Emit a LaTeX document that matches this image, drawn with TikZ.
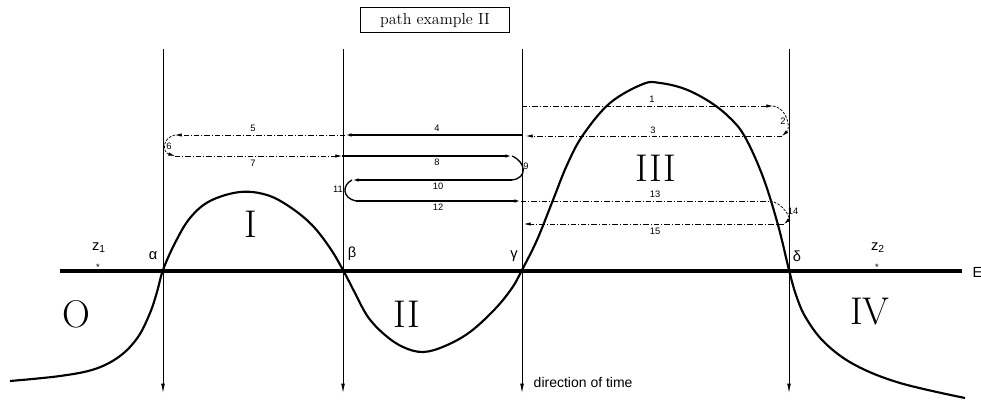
\documentclass[tikz,border=0pt]{standalone}
\usepackage{fontspec}
\setsansfont{Liberation Sans}
\usepackage{tikz}
\usetikzlibrary{arrows.meta, positioning}

\begin{document}
\begin{tikzpicture}[x=0.75pt, y=-0.75pt, every node/.style={font=\sffamily}]
    % Styles
    \tikzstyle{timeline} = [line width=0.6pt, -{Latex[length=7pt,width=2.8pt]}]
    \tikzstyle{region} = [font=\rmfamily\fontsize{29}{29}\selectfont, inner sep=0pt]
    \tikzstyle{point} = [font=\sffamily\fontsize{11}{11}\selectfont, inner sep=0pt]
    \tikzstyle{steplbl} = [font=\sffamily\fontsize{7}{7}\selectfont, inner sep=0pt]
    \tikzstyle{solidpath} = [line width=1pt, -{Latex[length=5pt,width=2.6pt]}]
    \tikzstyle{dashpath} = [line width=0.55pt, dash pattern=on 4pt off 1.5pt on 0.8pt off 1.5pt, -{Latex[length=5pt,width=2.6pt]}]
    \tikzstyle{turnpath} = [line width=0.55pt, dash pattern=on 2pt off 1pt, -{Latex[length=5pt,width=2.6pt]}]

    \useasboundingbox (0,0) rectangle (981,400);

    % Title
    \node[draw, thin, font=\rmfamily\fontsize{12}{12}\selectfont, minimum width=112pt, minimum height=19pt, inner sep=1pt] (title) at (435,20) {path example II};

    % Time lines
    \foreach \name/\x in {a/163, b/343, g/522, d/789} {
        \coordinate (top\name) at (\x,49);
        \coordinate (bot\name) at (\x,393);
        \draw[timeline] (top\name) -- (bot\name);
    }
    \node[anchor=west, font=\sffamily\fontsize{10.5}{11}\selectfont] (time) at (529,382) {direction of time};

    % Energy axis
    \coordinate (axl) at (60,271);
    \coordinate (axr) at (962,271);
    \draw[line width=2.6pt] (axl) -- (axr);
    \node[anchor=west, font=\sffamily\fontsize{11}{11}\selectfont] (E) at (968,272) {E};

    % Potential curve
    \draw[line width=1.6pt] plot[smooth, tension=0.6] coordinates {
        (10,381) (60,376) (95,369) (120,356) (138,337) (150,313) (157,292) (163,270)
        (175,243) (190,218) (210,201) (240,192) (267,195) (290,207) (312,225) (330,248)
        (343,270) (355,293) (368,317) (385,335) (403,347) (423,352) (445,346) (470,332)
        (495,309) (512,288) (522,270) (537,240) (553,200) (567,165) (583,135) (610,103)
        (643,84) (660,83) (685,89) (710,102) (730,118) (745,137) (763,177) (778,225)
        (789,270) (796,295) (806,318) (825,343) (855,365) (900,383) (965,398)};

    % Region labels
    \node[region] (rO) at (76,314) {O};
    \node[region] (rI) at (251,224) {I};
    \node[region] (rII) at (407,314) {II};
    \node[region] (rIII) at (656,168) {III};
    \node[region] (rIV) at (870,312) {IV};

    % Turning points
    \node[point] (alpha) at (153,256) {α};
    \node[point] (beta) at (352,254) {β};
    \node[point] (gamma) at (514,256) {γ};
    \node[point] (delta) at (797,256) {δ};
    \node[point] (z1) at (99,248) {z\textsubscript{1}};
    \node[point] (z2) at (878,248) {z\textsubscript{2}};
    \node[inner sep=0pt, font=\sffamily\fontsize{7}{7}\selectfont] (s1) at (98,267) {*};
    \node[inner sep=0pt, font=\sffamily\fontsize{7}{7}\selectfont] (s2) at (877,267) {*};

    % Path points
    \coordinate (p1s) at (522,106);
    \coordinate (p1e) at (773,106);
    \coordinate (p3s) at (782,136);
    \coordinate (p3e) at (526,136);
    \coordinate (p4s) at (522,135);
    \coordinate (p4e) at (345,135);
    \coordinate (p5e) at (175,135);
    \coordinate (p7s) at (175,156);
    \coordinate (p7e) at (342,156);
    \coordinate (p8e) at (512,156);
    \coordinate (p10s) at (512,180);
    \coordinate (p10e) at (352,180);
    \coordinate (p12s) at (356,201);
    \coordinate (p12e) at (521,201);
    \coordinate (p13e) at (770,201);
    \coordinate (p15s) at (784,224);
    \coordinate (p15e) at (524,224);

    % Connections
    \draw[dashpath] (p1s) -- (p1e);
    \draw[turnpath] (p1e) .. controls (787,108) and (791,128) .. (p3s);
    \draw[dashpath] (p3s) -- (p3e);
    \draw[solidpath] (p4s) -- (p4e);
    \draw[dashpath] (p4e) -- (p5e);
    \draw[turnpath] (p5e) .. controls (162,138) and (162,152) .. (p7s);
    \draw[dashpath] (p7s) -- (p7e);
    \draw[solidpath] (p7e) -- (p8e);
    \draw[line width=1pt] (p8e) .. controls (526,162) and (528,178) .. (p10s);
    \draw[solidpath] (p10s) -- (p10e);
    \draw[line width=1pt] (p10e) .. controls (342,185) and (342,198) .. (p12s);
    \draw[solidpath] (p12s) -- (p12e);
    \draw[dashpath, -] (p12e) -- (p13e);
    \draw[turnpath] (p13e) .. controls (783,203) and (791,218) .. (p15s);
    \draw[dashpath] (p15s) -- (p15e);

    % Step labels
    \foreach \n/\x/\y in {1/652/99, 2/783/121, 3/653/130, 4/437/128, 5/253/128, 6/169/146,
        7/253/163, 8/437/162, 9/526/166, 10/438/186, 11/338/189, 12/438/207,
        13/655/194, 14/793/211, 15/655/231} {
        \node[steplbl] (n\n) at (\x,\y) {\n};
    }
\end{tikzpicture}
\end{document}
